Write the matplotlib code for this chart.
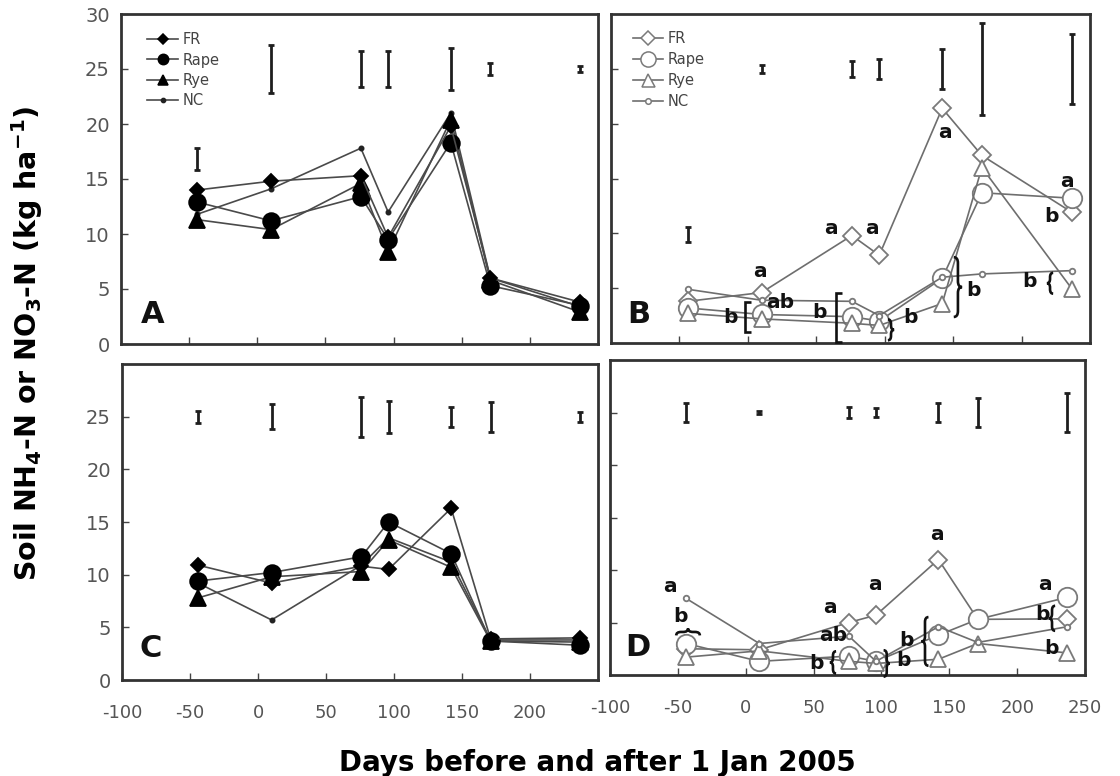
import matplotlib
matplotlib.use("Agg")
import matplotlib.pyplot as plt
import matplotlib.transforms as mtransforms
from matplotlib.lines import Line2D
from matplotlib.path import Path
from matplotlib.patches import PathPatch

plt.rcParams["font.family"] = ["DejaVu Sans"]
plt.rcParams["axes.unicode_minus"] = False
plt.rcParams["mathtext.fontset"] = "dejavusans"
plt.rcParams["mathtext.default"] = "bf"

# ---------------------------------------------------------------- data
days = [-44, 10, 76, 96, 142, 171, 237]

# panel A
fr_a = [14.0, 14.8, 15.3, 9.7, 19.8, 6.0, 3.8]
rape_a = [12.9, 11.2, 13.4, 9.5, 18.3, 5.3, 3.5]
rye_a = [11.3, 10.4, 14.6, 8.4, 20.4, 5.8, 2.9]
nc_a = [11.8, 14.1, 17.8, 12.0, 21.0, 6.0, 3.4]
lsd_mid_a = [16.85, 25, 25, 25, 25, 25, 25]
lsd_half_a = [1.0, 2.2, 1.65, 1.67, 1.9, 0.58, 0.23]

# panel B
fr_b = [3.8, 4.6, 9.8, 8.0, 21.4, 17.1, 11.9]
rape_b = [3.2, 2.6, 2.4, 2.0, 5.9, 13.7, 13.2]
rye_b = [2.7, 2.2, 1.8, 1.6, 3.6, 16.0, 4.9]
nc_b = [4.9, 3.9, 3.8, 2.5, 6.0, 6.3, 6.6]
lsd_mid_b = [9.9, 25, 25, 25, 25, 25, 25]
lsd_half_b = [0.68, 0.38, 0.73, 0.9, 1.8, 4.2, 3.2]

# panel C
fr_c = [10.9, 9.2, 10.8, 10.5, 16.3, 3.9, 4.0]
rape_c = [9.4, 10.2, 11.7, 15.0, 12.0, 3.7, 3.3]
rye_c = [7.8, 9.8, 10.3, 13.3, 10.7, 3.7, 3.6]
nc_c = [9.2, 5.7, 10.9, 13.5, 11.2, 3.8, 3.8]
lsd_mid_c = [25, 25, 25, 25, 25, 25, 25]
lsd_half_c = [0.57, 1.2, 1.9, 1.52, 0.95, 1.42, 0.47]

# panel D
fr_d = [2.5, 2.4, 5.0, 5.7, 11.0, 5.3, 5.35]
rape_d = [3.0, 1.3, 1.8, 1.3, 3.8, 5.3, 7.4]
rye_d = [1.7, 2.3, 1.3, 1.1, 1.5, 3.0, 2.1]
nc_d = [7.3, 3.0, 3.7, 1.3, 4.6, 3.1, 4.6]
lsd_mid_d = [25, 25, 25, 25, 25, 25, 25]
lsd_half_d = [0.95, 0.12, 0.55, 0.4, 0.9, 1.35, 1.85]

series_names = ["FR", "Rape", "Rye", "NC"]

# significance letters: (day, value, text)
letters_b = [(8.5, 6.5, "a"), (23.5, 3.65, "ab"), (-13, 2.3, "b"),
             (61, 10.4, "a"), (90.5, 10.4, "a"), (52.7, 2.75, "b"),
             (118.5, 2.3, "b"), (144, 19.2, "a"), (165, 4.8, "b"),
             (233, 14.7, "a"), (222, 11.5, "b"), (206, 5.6, "b")]
letters_d = [(-55.8, 8.4, "a"), (-48.4, 5.6, "b"), (62, 6.45, "a"),
             (64.5, 3.8, "ab"), (52, 1.1, "b"), (95.3, 8.6, "a"),
             (116, 1.4, "b"), (140.7, 13.4, "a"), (118.6, 3.3, "b"),
             (220.5, 8.6, "a"), (219, 5.8, "b"), (225.5, 2.5, "b")]

# grouping brackets: (kind, day, value, length_pt, depth_pt, direction)
brackets_b = [("square", -2.1, 2.37, 22, 4, "left"),
              ("square", 64.4, 2.3, 35, 4.5, "left"),
              ("curly", 104.6, 1.2, 15, 4.5, "right"),
              ("curly", 153.5, 5.1, 43, 6, "right"),
              ("curly", 220.8, 5.45, 15, 4.5, "left")]
brackets_d = [("curly", -42.5, 4.1, 17, 5, "up"),
              ("curly", 64.3, 1.2, 16, 4.5, "left"),
              ("curly", 103.9, 1.1, 19, 4.5, "right"),
              ("curly", 132.1, 3.2, 35, 5, "left"),
              ("curly", 225.7, 5.4, 18, 4.5, "left")]

# ---------------------------------------------------------------- styling
W, H = 1120, 776
fig = plt.figure(figsize=(W / 100, H / 100), dpi=100)


def px_axes(left, top, right, bottom):
    return fig.add_axes([left / W, 1 - bottom / H, (right - left) / W, (bottom - top) / H])


ax_a = px_axes(121, 14, 598, 344)
ax_b = px_axes(611, 14, 1090, 343)
ax_c = px_axes(122, 364, 598, 680)
ax_d = px_axes(610, 360, 1085, 675)

FILLED = dict(line="#4a4a4a", face="black", edge="black",
              order=[3.3, 3.2, 3.1, 3.0], legend_scale=0.62)
OPEN = dict(line="#6e6e6e", face="white", edge="#7a7a7a",
            order=[3.0, 3.1, 3.2, 3.3], legend_scale=0.78)
MARKERS = [("D", 7.6), ("o", 12), ("^", 11), (".", 6)]
OPEN_MARKERS = [("D", 9.0), ("o", 14), ("^", 12), ("o", 4)]


def draw_series(ax, values, style, markers):
    for vals, (mk, ms), z in zip(values, markers, style["order"]):
        face = style["face"]
        edge = style["edge"]
        if mk == ".":
            face = edge = "#222222"
        ax.plot(days, vals, color=style["line"], lw=1.2, marker=mk, ms=ms,
                mfc=face, mec=edge, mew=1.3, zorder=z)


def draw_lsd(ax, mids, halves):
    ax.errorbar(days, mids, yerr=halves, fmt="none", ecolor="#1e1e1e",
                elinewidth=2.0, capsize=2.2, capthick=2.0, zorder=5)


def frame(ax, yticks, ylabels, xticks, xlabels):
    ax.set_xlim(-100, 250)
    ax.set_ylim(0, 30)
    ax.set_xticks(xticks)
    ax.set_yticks(yticks)
    ax.tick_params(direction="in", length=5, width=1, color="#444444",
                   labelcolor="#555555", labelsize=14, pad=8)
    ax.tick_params(axis="x", labelsize=13, pad=17)
    if xlabels:
        ax.set_xticklabels([str(v) for v in xticks])
    else:
        ax.tick_params(axis="x", labelbottom=False)
    if ylabels:
        ax.set_yticklabels([str(v) for v in yticks])
    else:
        ax.tick_params(axis="y", labelleft=False)
    for s in ax.spines.values():
        s.set_linewidth(2.0)
        s.set_color("#333333")


def bracket(ax, kind, x, y, length, depth, direction):
    L, d = length, depth
    if kind == "square":
        verts = [(d, L / 2), (0, L / 2), (0, -L / 2), (d, -L / 2)]
        codes = [Path.MOVETO, Path.LINETO, Path.LINETO, Path.LINETO]
    else:
        r = min(d * 0.7, L / 4)
        h = d / 2
        verts = [(h, L / 2), (0, L / 2), (0, L / 2 - r), (0, r),
                 (0, 0), (-h, 0), (0, 0), (0, -r),
                 (0, -L / 2 + r), (0, -L / 2), (h, -L / 2)]
        codes = [Path.MOVETO, Path.CURVE3, Path.CURVE3, Path.LINETO,
                 Path.CURVE3, Path.CURVE3, Path.CURVE3, Path.CURVE3,
                 Path.LINETO, Path.CURVE3, Path.CURVE3]
    if direction == "right":
        verts = [(-u, v) for u, v in verts]
    elif direction == "up":
        verts = [(v, -u) for u, v in verts]
    elif direction == "down":
        verts = [(v, u) for u, v in verts]
    trans = (mtransforms.Affine2D().scale(1 / 72) + fig.dpi_scale_trans
             + mtransforms.ScaledTranslation(x, y, ax.transData))
    ax.add_patch(PathPatch(Path(verts, codes), transform=trans, fill=False,
                           lw=1.9, ec="#111111", zorder=6, clip_on=False))


def legend(ax, style, markers, anchor, spacing):
    handles = []
    for name, (mk, ms) in zip(series_names, markers):
        face, edge = style["face"], style["edge"]
        if mk == ".":
            face = edge = "#222222"
        scale = style["legend_scale"] if ms > 6 else 1.0
        handles.append(Line2D([], [], color=style["line"], lw=1.2, marker=mk,
                              ms=ms * scale, mfc=face, mec=edge, mew=1.1, label=name))
    leg = ax.legend(handles=handles, loc="upper left", bbox_to_anchor=anchor,
                    frameon=False, handlelength=2.1, handletextpad=0.3,
                    labelspacing=spacing, borderaxespad=0, borderpad=0,
                    fontsize=10.5)
    for t in leg.get_texts():
        t.set_color("#444444")


def panel_letter(ax, x, y, s):
    ax.text(x, y, s, transform=ax.transAxes, fontsize=22, fontweight="bold",
            ha="center", va="center", color="#111111")


def sig_letters(ax, items):
    for x, y, s in items:
        ax.text(x, y, s, fontsize=14.5, fontweight="bold", ha="center",
                va="center", color="#111111", zorder=7)


# ---------------------------------------------------------------- panels
xt_top = [-50, 0, 50, 100, 150, 200]

draw_series(ax_a, [fr_a, rape_a, rye_a, nc_a], FILLED, MARKERS)
draw_lsd(ax_a, lsd_mid_a, lsd_half_a)
frame(ax_a, [0, 5, 10, 15, 20, 25, 30], True, xt_top, False)
legend(ax_a, FILLED, MARKERS, (0.055, 0.945), 0.37)
panel_letter(ax_a, 0.066, 0.088, "A")

draw_series(ax_b, [fr_b, rape_b, rye_b, nc_b], OPEN, OPEN_MARKERS)
draw_lsd(ax_b, lsd_mid_b, lsd_half_b)
frame(ax_b, [5, 10, 15, 20, 25], False, xt_top, False)
legend(ax_b, OPEN, OPEN_MARKERS, (0.045, 0.948), 0.40)
panel_letter(ax_b, 0.058, 0.088, "B")
sig_letters(ax_b, letters_b)
for b in brackets_b:
    bracket(ax_b, *b)

draw_series(ax_c, [fr_c, rape_c, rye_c, nc_c], FILLED, MARKERS)
draw_lsd(ax_c, lsd_mid_c, lsd_half_c)
frame(ax_c, [0, 5, 10, 15, 20, 25], True, [-100, -50, 0, 50, 100, 150, 200], True)
panel_letter(ax_c, 0.06, 0.10, "C")

draw_series(ax_d, [fr_d, rape_d, rye_d, nc_d], OPEN, OPEN_MARKERS)
draw_lsd(ax_d, lsd_mid_d, lsd_half_d)
frame(ax_d, [5, 10, 15, 20, 25], False,
      [-100, -50, 0, 50, 100, 150, 200, 250], True)
panel_letter(ax_d, 0.058, 0.088, "D")
sig_letters(ax_d, letters_d)
for b in brackets_d:
    bracket(ax_d, *b)

fig.text(27 / W, 1 - 343 / H, r"Soil NH$_4$-N or NO$_3$-N (kg ha$^{-1}$)",
         rotation=90, ha="center", va="center", fontsize=20.5, fontweight="bold")
fig.text(597 / W, 1 - 771 / H, "Days before and after 1 Jan 2005",
         ha="center", va="baseline", fontsize=20, fontweight="bold")

fig.savefig("out.png", dpi=100)
